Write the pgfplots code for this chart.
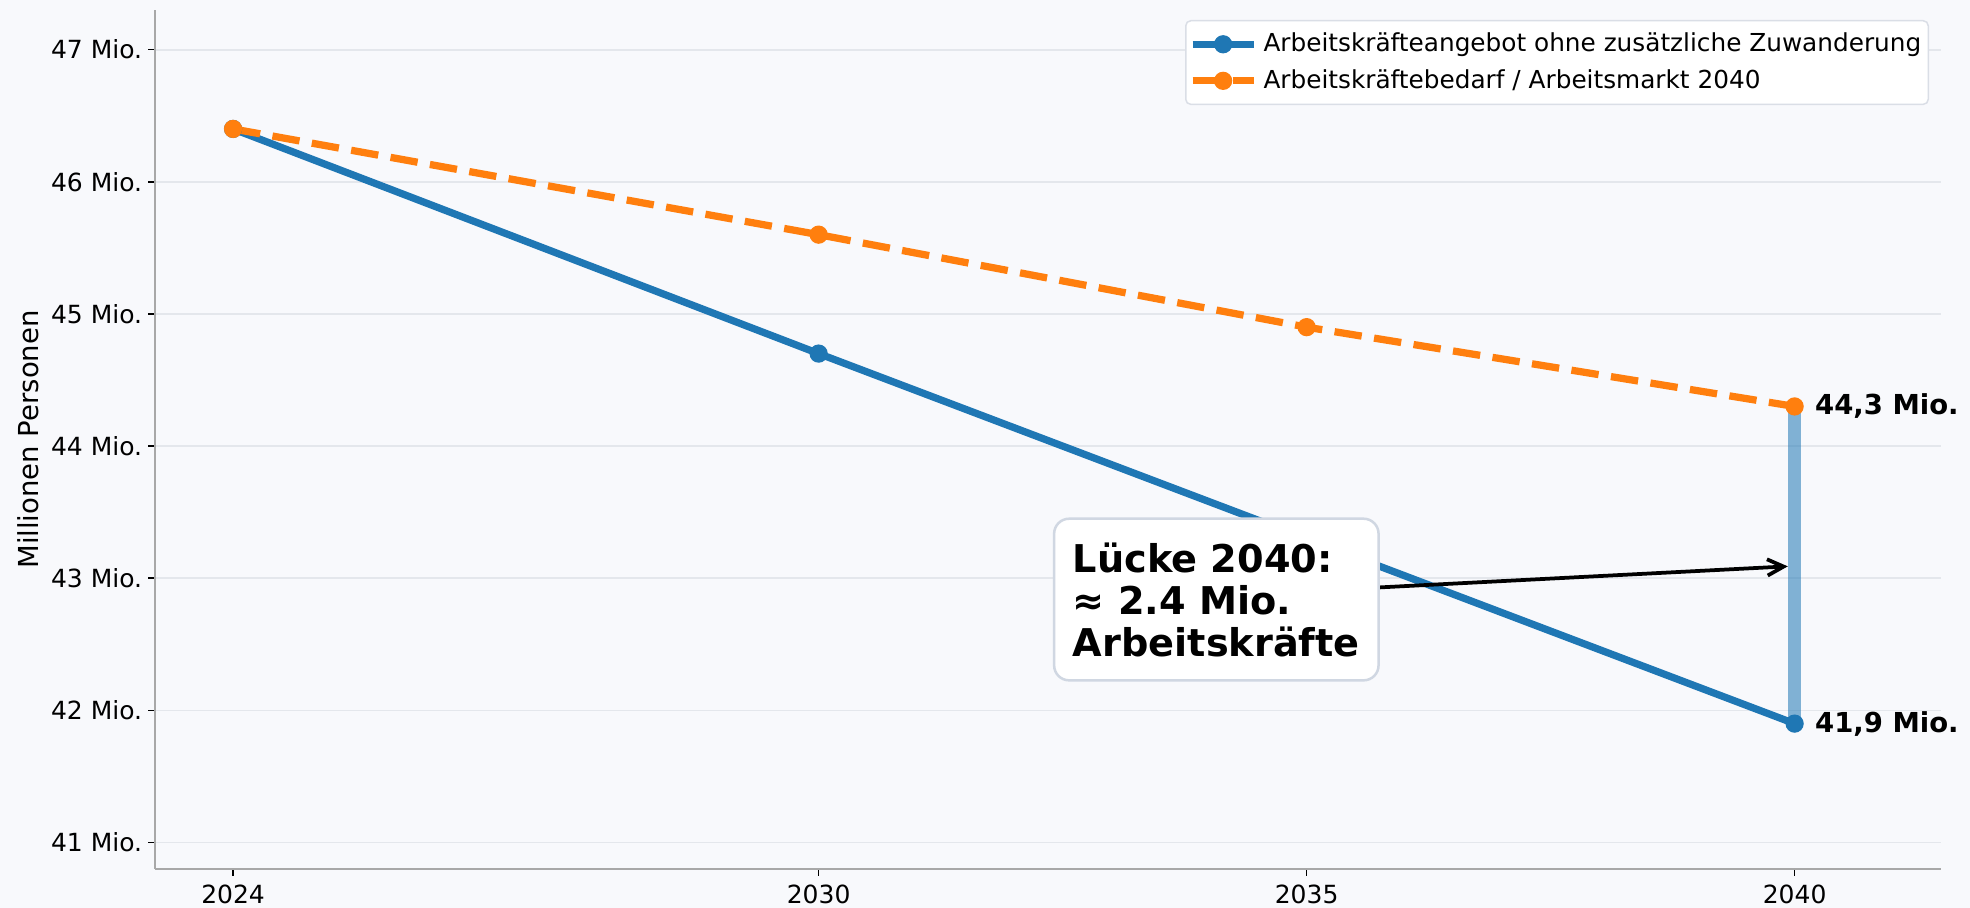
\documentclass[border=0pt]{standalone}
\usepackage{fontspec}
\setmainfont{DejaVu Sans}
\usepackage{pgfplots}
\pgfplotsset{compat=1.18}
\usetikzlibrary{arrows.meta}
\definecolor{bg}{HTML}{F8F9FC}
\definecolor{cblue}{HTML}{1F77B4}
\definecolor{corange}{HTML}{FF7F0E}
\definecolor{gridc}{HTML}{E4E7EC}
\definecolor{spinec}{HTML}{A8A8A8}
\definecolor{boxedge}{HTML}{D0D7E2}
\definecolor{legedge}{HTML}{DADEE6}
\begin{document}
\begin{tikzpicture}
\path[use as bounding box, fill=bg] (-62pt,-15.6pt) rectangle (726pt,347.6pt);
\begin{axis}[
  scale only axis, width=714.4pt, height=343.6pt,
  xmin=2023.2, xmax=2041.5, ymin=40.8, ymax=47.3,
  axis x line*=bottom, axis y line*=left,
  axis line style={spinec, line width=0.6pt},
  xtick={2024,2030,2035,2040}, xticklabels={2024,2030,2035,2040},
  ytick={41,42,43,44,45,46,47},
  yticklabels={41 Mio.,42 Mio.,43 Mio.,44 Mio.,45 Mio.,46 Mio.,47 Mio.},
  tick align=outside, major tick length=2.8pt,
  tick style={black, line width=0.6pt},
  ticklabel style={font=\fontsize{10}{12}\selectfont},
  yticklabel style={xshift=1.2pt},
  ymajorgrids, grid style={gridc, line width=0.7pt},
  ylabel={Millionen Personen},
  ylabel style={at={(axis description cs:-0.0711,0.5)}, anchor=center, font=\fontsize{11}{13}\selectfont},
  clip=false,
  legend cell align=left,
  legend style={at={(axis description cs:1,1)}, anchor=north east, xshift=-4.8pt, yshift=-4pt,
    draw=legedge, line width=0.6pt, fill=white, rounded corners=2pt,
    font=\fontsize{9.9}{12}\selectfont, inner xsep=1.3pt, inner ysep=3.4pt,
    nodes={inner sep=1.5pt}, row sep=2.6pt},
  legend image code/.code={\draw[#1, mark repeat=1, mark phase=1, mark indices={2}] plot coordinates {(0pt,0pt)(12.2pt,0pt)(24.4pt,0pt)}; \path (25.4pt,0pt);},
]
\addplot[cblue, line width=2.9pt, mark=*, mark size=3.4pt, mark indices={1,2,4}, mark options={solid, line width=0.5pt}]
  coordinates {(2024,46.4) (2030,44.7) (2035,43.3) (2040,41.9)};
\addlegendentry{Arbeitskräfteangebot ohne zusätzliche Zuwanderung}
\addplot[corange, line width=2.9pt, dash pattern=on 11pt off 5pt, mark=*, mark size=3.4pt, mark options={solid, line width=0.5pt}]
  coordinates {(2024,46.4) (2030,45.6) (2035,44.9) (2040,44.3)};
\addlegendentry{Arbeitskräftebedarf / Arbeitsmarkt 2040}
\addplot[cblue, opacity=0.55, line width=5.3pt, forget plot] coordinates {(2040,41.9) (2040,44.3)};
\draw[black, line width=1.5pt, -{Straight Barb[length=6.5pt,width=6.5pt]}] (axis cs:2035.73,42.93) -- (axis cs:2039.93,43.09);
\node[anchor=north west, draw=boxedge, line width=1pt, fill=white, rounded corners=6pt, inner xsep=7.5pt, inner ysep=9.5pt, align=left, font=\bfseries\fontsize{15.3}{16.8}\selectfont] at (axis cs:2032.40,43.46) {Lücke 2040:\\≈ 2.4 Mio.\\Arbeitskräfte};
\node[anchor=west, inner sep=0pt, xshift=8pt, font=\bfseries\fontsize{11}{13}\selectfont] at (axis cs:2040,44.3) {44,3 Mio.};
\node[anchor=west, inner sep=0pt, xshift=8pt, font=\bfseries\fontsize{11}{13}\selectfont] at (axis cs:2040,41.9) {41,9 Mio.};
\end{axis}
\end{tikzpicture}
\end{document}
